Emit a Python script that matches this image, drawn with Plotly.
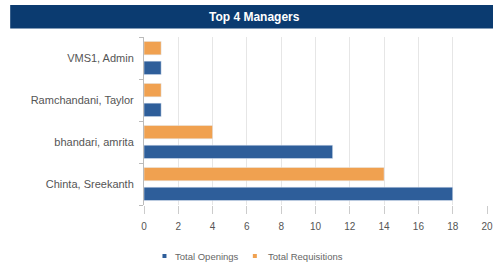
import plotly.graph_objects as go

managers = ["Chinta, Sreekanth", "bhandari, amrita", "Ramchandani, Taylor", "VMS1, Admin"]
total_openings = [18, 11, 1, 1]
total_requisitions = [14, 4, 1, 1]
x_ticks = [0, 2, 4, 6, 8, 10, 12, 14, 16, 18, 20]
series_names = ["Total Openings", "Total Requisitions"]

BLUE = "#2E5E9A"
ORANGE = "#F0A150"
FONT = "Liberation Sans, Arial"

fig = go.Figure()
fig.add_trace(go.Bar(y=managers, x=total_openings, orientation="h",
                     name=series_names[0], marker_color=BLUE, showlegend=False))
fig.add_trace(go.Bar(y=managers, x=total_requisitions, orientation="h",
                     name=series_names[1], marker_color=ORANGE, showlegend=False))

# plot area: x 144..487.5, y 37..205
L, R, T, B = 144, 5.5, 37, 61
W, H = 493, 266
pw, ph = W - L - R, H - T - B

def px(x):
    return (x - L) / pw

def py(y):
    return (H - B - y) / ph

# title banner
fig.add_shape(type="rect", xref="paper", yref="paper",
              x0=px(10), x1=px(495), y0=py(28.5), y1=py(5),
              fillcolor="#0B3B70", line_width=0, layer="above")
fig.add_annotation(text="<b>Top 4 Managers</b>", xref="paper", yref="paper",
                   x=px(255), y=py(17), xanchor="center", yanchor="middle",
                   showarrow=False, font=dict(family=FONT, size=12, color="white"))

# legend (small square swatches + labels)
for name, color, mx, tx in [(series_names[0], BLUE, 164.5, 173),
                            (series_names[1], ORANGE, 255, 266)]:
    fig.add_shape(type="rect", xref="paper", yref="paper",
                  x0=px(mx - 2), x1=px(mx + 2), y0=py(258), y1=py(254),
                  fillcolor=color, line_width=0)
    fig.add_annotation(text=name, xref="paper", yref="paper",
                       x=px(tx), y=py(256), xanchor="left", yanchor="middle",
                       showarrow=False,
                       font=dict(family=FONT, size=9.5, color="#666666"))

fig.update_layout(
    width=W, height=H,
    margin=dict(l=L, r=R, t=T, b=B, autoexpand=False),
    paper_bgcolor="white", plot_bgcolor="white",
    barmode="group", bargap=0.06, bargroupgap=0.32,
    font=dict(family=FONT, size=10, color="#555555"),
    showlegend=False,
)
fig.update_xaxes(range=[0, 20], tickvals=x_ticks, showgrid=True, gridcolor="#E6E6E6",
                 ticks="outside", ticklen=8, tickcolor="#CCCCCC", zeroline=False,
                 ticklabelstandoff=4, automargin=False,
                 tickfont=dict(size=10, color="#555555"), fixedrange=True)
fig.update_yaxes(categoryorder="array", categoryarray=managers, showline=True,
                 linecolor="#BBBBBB", ticks="outside", tickson="boundaries", ticklen=4,
                 tickcolor="#BBBBBB", tickfont=dict(size=11, color="#555555"),
                 ticklabelstandoff=7, automargin=False, fixedrange=True)

fig.write_html("out.html", config={"displayModeBar": False},
               post_script="document.body.style.margin='0';document.body.style.padding='0';"
                           "document.body.style.overflow='hidden';")
